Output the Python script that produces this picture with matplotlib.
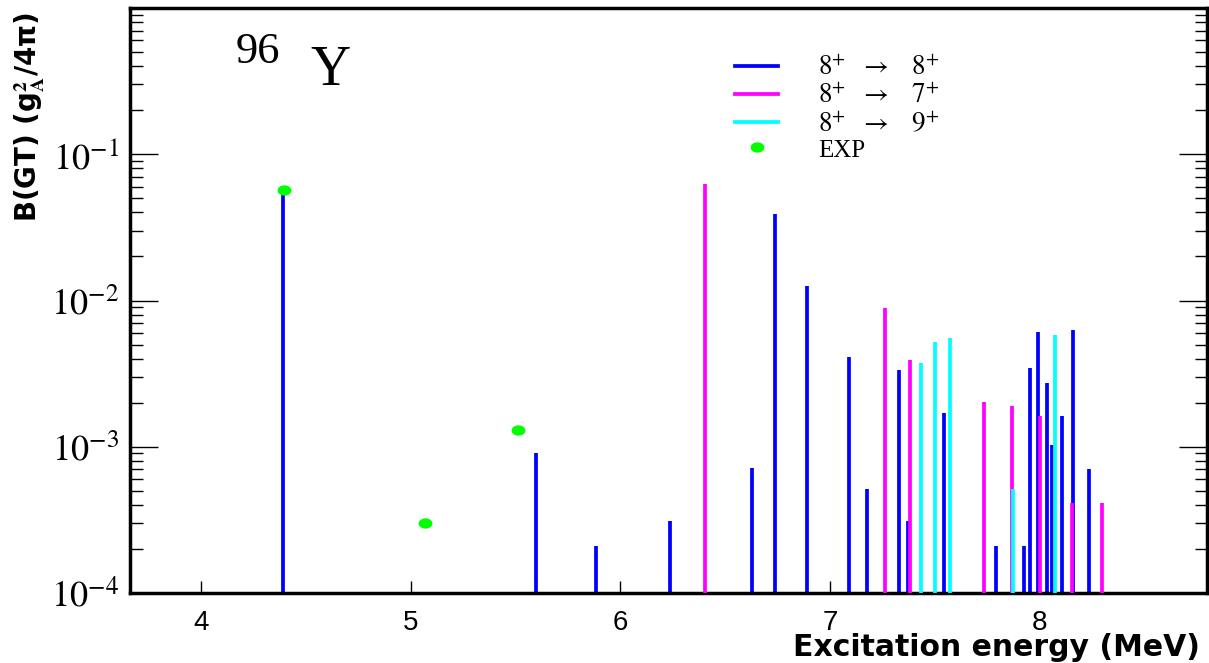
import numpy as np
import matplotlib
matplotlib.use("Agg")
import matplotlib.pyplot as plt
from matplotlib.path import Path
from matplotlib.ticker import LogLocator, NullFormatter, FixedLocator

plt.rcParams['mathtext.fontset'] = 'stix'

# ---- data ----
e_88 = [4.391, 5.597, 5.885, 6.236, 6.628, 6.737, 6.893, 7.091, 7.178, 7.330, 7.372,
        7.544, 7.791, 7.926, 7.957, 7.995, 8.036, 8.062, 8.108, 8.160, 8.238]
b_88 = [0.056, 9.1e-4, 2.1e-4, 3.13e-4, 7.2e-4, 0.039, 0.0126, 4.14e-3, 5.13e-4, 3.36e-3, 3.13e-4,
        1.71e-3, 2.1e-4, 2.1e-4, 3.45e-3, 6.1e-3, 2.72e-3, 1.03e-3, 1.62e-3, 6.33e-3, 7.1e-4]

e_87 = [6.406, 7.263, 7.382, 7.738, 7.869, 8.001, 8.154, 8.299]
b_87 = [0.0628, 8.9e-3, 3.93e-3, 2.02e-3, 1.91e-3, 1.62e-3, 4.1e-4, 4.1e-4]

e_89 = [7.437, 7.504, 7.574, 7.872, 8.074]
b_89 = [3.73e-3, 5.24e-3, 5.58e-3, 5.13e-4, 5.78e-3]

e_exp = [4.394, 5.067, 5.511]
b_exp = [0.057, 3.0e-4, 1.30e-3]

legend_labels = [r"$8^{+}\ \ \rightarrow\ \ \ 8^{+}$", r"$8^{+}\ \ \rightarrow\ \ \ 7^{+}$",
                 r"$8^{+}\ \ \rightarrow\ \ \ 9^{+}$", "EXP"]
xticks = [4, 5, 6, 7, 8]

# ---- figure ----
fig = plt.figure(figsize=(12.09, 6.63), dpi=100)
ax = fig.add_axes([130/1209, 70/663, 1077/1209, 585/663])
ax.set_yscale('log')
ax.set_xlim(3.66, 8.80)
ax.set_ylim(1e-4, 1.0)

ymin = 1e-4
lw = 2.7
ax.vlines(e_88, ymin, b_88, colors='#0000ff', linewidth=lw, zorder=2)
ax.vlines(e_87, ymin, b_87, colors='#ff00ff', linewidth=lw, zorder=3)
ax.vlines(e_89, ymin, b_89, colors='#00ffff', linewidth=lw, zorder=4)

t = np.linspace(0, 2*np.pi, 40)
ell = Path(np.column_stack([1.35*np.cos(t), np.sin(t)]), closed=True)
ax.plot(e_exp, b_exp, linestyle='none', marker=ell, markersize=10,
        color='#00ff00', markeredgewidth=0, zorder=5)

# axes styling
for s in ax.spines.values():
    s.set_linewidth(2.5)
    s.set_color('black')

ax.xaxis.set_major_locator(FixedLocator(xticks))
ax.tick_params(axis='x', which='major', direction='in', length=9, width=1,
               top=False, bottom=True, pad=12, labelsize=20)
ax.tick_params(axis='x', which='minor', bottom=False, top=False)
for lab in ax.get_xticklabels():
    lab.set_family('Liberation Sans')

ax.yaxis.set_major_locator(LogLocator(base=10, numticks=10))
ax.yaxis.set_minor_locator(LogLocator(base=10, subs=np.arange(2, 10), numticks=20))
ax.yaxis.set_minor_formatter(NullFormatter())
ax.yaxis.set_major_formatter(plt.FuncFormatter(
    lambda v, p: r"$10^{%d}$" % int(round(np.log10(v))) if v < 0.5 else ""))
ax.tick_params(axis='y', which='major', direction='in', length=20, width=1,
               left=True, right=True, labelsize=26, pad=8)
ax.tick_params(axis='y', which='minor', direction='in', length=9, width=1,
               left=True, right=True)

# labels
fig.text(1200/1209, 1 - 648/663, "Excitation energy (MeV)", ha='right', va='center',
         fontsize=21.5, fontweight='bold', family='DejaVu Sans')
fig.text(30/1209, 1 - 12/663, r"B(GT) (g$^{\mathbf{2}}_{\mathbf{A}}$/4π)", rotation=90,
         ha='center', va='top', fontsize=20, fontweight='bold', family='DejaVu Sans')

# nucleus label
fig.text(236/1209, 1 - 63/663, "96", fontsize=32, family='Liberation Serif',
         ha='left', va='baseline')
fig.text(310/1209, 1 - 85/663, "Y", fontsize=40, family='Liberation Serif',
         ha='left', va='baseline')

# legend (manual)
colors = ['#0000ff', '#ff00ff', '#00ffff']
rows_y = [66, 94, 122]
for c, yy, lab in zip(colors, rows_y, legend_labels[:3]):
    yf = 1 - yy/663
    fig.add_artist(plt.Line2D([735/1209, 778/1209], [yf, yf], color=c, linewidth=lw))
    fig.text(818/1209, yf - 0.004, lab, fontsize=19.5, ha='left', va='center')
fig.add_artist(plt.Line2D([757/1209], [1 - 147/663], marker=ell, markersize=10,
                          color='#00ff00', markeredgewidth=0, linestyle='none'))
fig.text(818/1209, 1 - 151/663, legend_labels[3], fontsize=18, family='Liberation Serif',
         ha='left', va='center')

fig.savefig("out.png", dpi=100)
